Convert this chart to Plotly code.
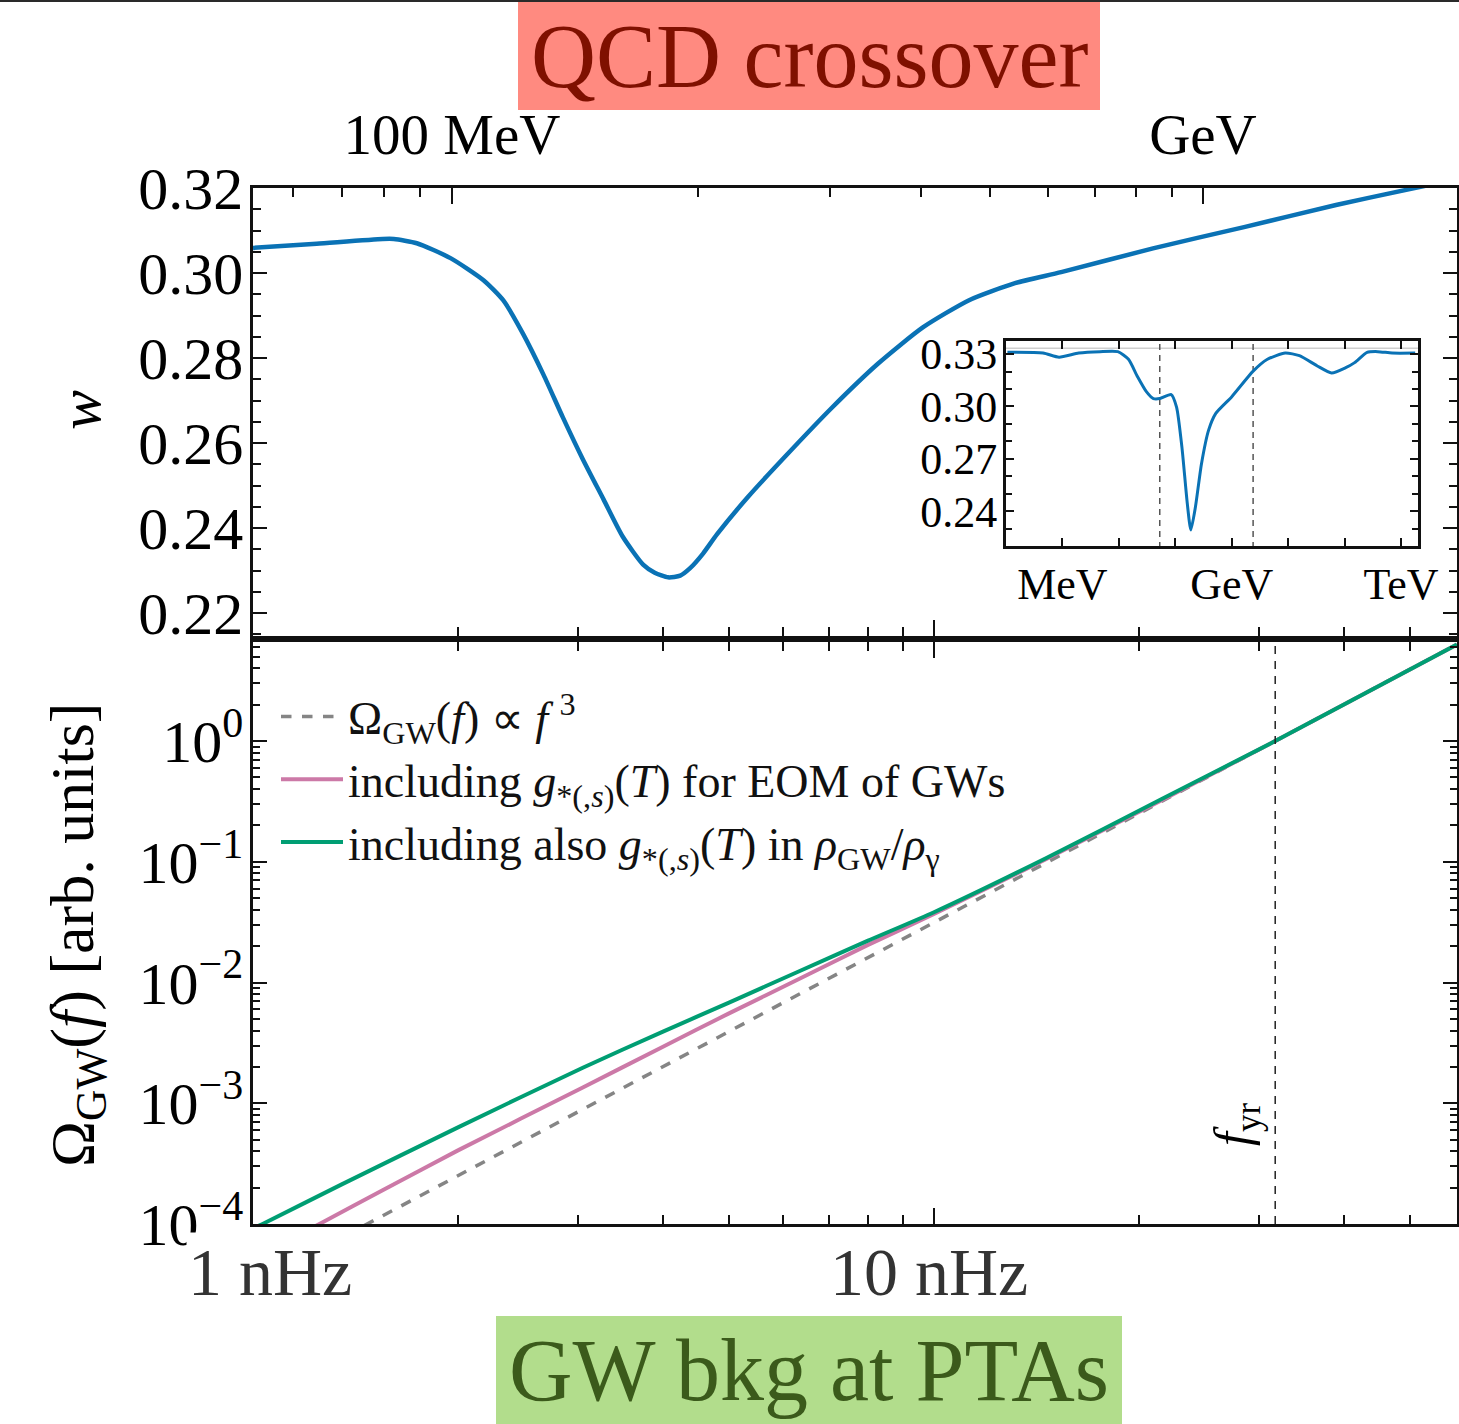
import plotly.graph_objects as go

# ---------------------------------------------------------------------------
# Equation-of-state parameter w = p/rho versus GW frequency today [nHz]
w_freq = [1.00, 1.24, 1.55, 1.61, 1.74, 1.95, 2.18, 2.33, 2.49, 2.67, 2.85,
          3.05, 3.27, 3.49, 3.74, 3.89, 4.07, 4.24, 4.38, 4.58, 4.80, 5.33,
          6.06, 7.08, 8.28, 9.63, 11.26, 13.15, 15.37, 20.97, 28.53, 38.93,
          49.17, 58.6]
w_val = [0.3059, 0.3069, 0.3080, 0.3080, 0.3070, 0.3035, 0.2983, 0.2936,
         0.2858, 0.2761, 0.2661, 0.2562, 0.2468, 0.2380, 0.2314, 0.2295,
         0.2284, 0.2288, 0.2305, 0.2340, 0.2385, 0.2473, 0.2570, 0.2683,
         0.2787, 0.2872, 0.2936, 0.2976, 0.3002, 0.3058, 0.3108, 0.3160,
         0.3195, 0.3221]

# Inset: w over the full temperature range [MeV]
inset_T = [0.106, 0.454, 0.871, 1.945, 4.63, 9.59, 14.8, 21.3, 30.7, 40.9,
           53.2, 84.5, 105.2, 130.9, 162.9, 188.4, 227.5, 291.1, 389.0, 521.2,
           1002, 2393, 4285, 8851, 15849, 32734, 58614, 104713, 150314,
           250035, 387258, 693426, 1778279]
inset_w = [0.3310, 0.3306, 0.3282, 0.3306, 0.3314, 0.3314, 0.3270, 0.3172,
           0.3085, 0.3045, 0.3045, 0.3068, 0.2996, 0.2767, 0.2444, 0.2292,
           0.2425, 0.2672, 0.2864, 0.2960, 0.3056, 0.3202, 0.3270, 0.3306,
           0.3291, 0.3232, 0.3192, 0.3222, 0.3251, 0.3310, 0.3314, 0.3306,
           0.3306]
radiation_w = [1 / 3, 1 / 3]
radiation_T = [0.1, 2.0e6]
window_T = [53.0, 2390.0]          # temperature span of the main panel [MeV]

# GW energy spectra [arb. units] versus frequency [nHz]
ref_freq = [1.0, 58.6]
ref_omega = [3.14e-5, 6.32]
eom_freq = [1.0, 1.26, 1.55, 2.0, 3.05, 4.0, 5.0, 6.4, 8.0, 10.0, 14.6,
            21.6, 31.7, 58.6]
eom_omega = [5.09e-5, 1.02e-4, 1.90e-4, 4.07e-4, 1.35e-3, 2.94e-3, 5.55e-3,
             1.10e-2, 2.05e-2, 3.69e-2, 0.105, 0.324, 1.0, 6.31]
full_freq = [1.0, 1.04, 1.35, 2.0, 3.05, 4.0, 5.0, 6.4, 8.0, 10.0, 14.6,
             21.6, 31.7, 58.6]
full_omega = [9.2e-5, 1.02e-4, 2.13e-4, 6.31e-4, 1.97e-3, 3.92e-3, 6.82e-3,
              1.27e-2, 2.22e-2, 3.82e-2, 0.107, 0.331, 1.0, 6.31]
f_yr = 31.7

# Temperature ticks on the top axis and the frequencies they map to
T_tick_MeV = [60, 70, 80, 90, 100, 200, 300, 400, 500, 600, 700, 800, 900, 1000]
T_tick_freq = [1.145, 1.351, 1.557, 1.759, 1.960, 4.50, 7.04, 9.57, 12.08,
               14.70, 17.24, 19.80, 22.36, 24.83]
T_labels = {100: "100 MeV", 1000: "GeV"}

# Tick positions
f_major = [1, 10]
f_minor = [2, 3, 4, 5, 6, 7, 8, 9, 20, 30, 40, 50]
omega_major = [1e-4, 1e-3, 1e-2, 1e-1, 1]
omega_labels = ["10<sup>\u22124</sup>", "10<sup>\u22123</sup>", "10<sup>\u22122</sup>",
                "10<sup>\u22121</sup>", "10<sup>0</sup>"]
omega_minor = [m * 10.0 ** e for e in range(-4, 1) for m in range(2, 10)]
inset_T_major = [1, 1e3, 1e6]
inset_T_labels = ["MeV", "GeV", "TeV"]
inset_T_minor = [0.1, 10, 100, 1e4, 1e5]

# ---------------------------------------------------------------------------
W, H = 1459, 1424
BLUE = "#0a72b5"
GREEN = "#009e73"
PINK = "#cc79a7"
GREY = "#858585"
FONT = "Liberation Serif"
INK = "#111111"


def px_x(v):
    return v / W


def px_y(v):
    return 1 - v / H


X_DOM = [px_x(253), px_x(1457)]
TOP_DOM = [px_y(636), px_y(188)]
BOT_DOM = [px_y(1224), px_y(642)]
INSET_X = [px_x(1006), px_x(1418)]
INSET_Y = [px_y(546), px_y(341)]
F_RANGE = [0, 1.768]

fig = go.Figure()

# upper panel: w(f)
fig.add_trace(go.Scatter(x=w_freq, y=w_val, xaxis="x", yaxis="y", mode="lines",
                         line=dict(color=BLUE, width=4.5, shape="spline", smoothing=0.6),
                         showlegend=False, hoverinfo="skip"))
# carrier for the temperature axis along the top
fig.add_trace(go.Scatter(x=T_tick_freq, y=[0.3] * len(T_tick_freq), xaxis="x3", yaxis="y",
                         mode="lines", line=dict(width=0), opacity=0,
                         showlegend=False, hoverinfo="skip"))

# lower panel: spectra
fig.add_trace(go.Scatter(x=ref_freq, y=ref_omega, xaxis="x2", yaxis="y2", mode="lines",
                         line=dict(color=GREY, width=3.5, dash="dash"),
                         name="\u03a9<sub>GW</sub>(<i>f</i>) \u221d <i>f</i> <sup>3</sup>"))
fig.add_trace(go.Scatter(x=eom_freq, y=eom_omega, xaxis="x2", yaxis="y2", mode="lines",
                         line=dict(color=PINK, width=4, shape="spline", smoothing=0.6),
                         name="including <i>g</i><sub>*(,<i>s</i>)</sub>(<i>T</i>) for EOM of GWs"))
fig.add_trace(go.Scatter(x=full_freq, y=full_omega, xaxis="x2", yaxis="y2", mode="lines",
                         line=dict(color=GREEN, width=4, shape="spline", smoothing=0.6),
                         name="including also <i>g</i><sub>*(,<i>s</i>)</sub>(<i>T</i>) in "
                              "<i>\u03c1</i><sub>GW</sub>/<i>\u03c1</i><sub>\u03b3</sub>"))
fig.add_trace(go.Scatter(x=[f_yr, f_yr], y=[1e-4, 10], xaxis="x2", yaxis="y2", mode="lines",
                         line=dict(color="#222222", width=1.5, dash="8px,7px"),
                         showlegend=False, hoverinfo="skip"))

# inset: w(T) over the full range
fig.add_trace(go.Scatter(x=radiation_T, y=radiation_w, xaxis="x4", yaxis="y4", mode="lines",
                         line=dict(color="#cfcfcf", width=1.5), showlegend=False,
                         hoverinfo="skip"))
for t in window_T:
    fig.add_trace(go.Scatter(x=[t, t], y=[0.2, 0.35], xaxis="x4", yaxis="y4", mode="lines",
                             line=dict(color="#555555", width=1.5, dash="6px,5px"),
                             showlegend=False, hoverinfo="skip"))
fig.add_trace(go.Scatter(x=inset_T, y=inset_w, xaxis="x4", yaxis="y4", mode="lines",
                         line=dict(color=BLUE, width=3, shape="spline", smoothing=0.6),
                         showlegend=False, hoverinfo="skip"))

axis_common = dict(showline=True, linecolor=INK, linewidth=2.5, showgrid=False,
                   zeroline=False, tickcolor=INK, tickwidth=2, automargin=False)

fig.update_layout(
    template="none", autosize=False,
    width=W, height=H, margin=dict(l=0, r=0, t=0, b=0, pad=0, autoexpand=False),
    paper_bgcolor="white", plot_bgcolor="white",
    font=dict(family=FONT, color="black"),
    xaxis=dict(axis_common, domain=X_DOM, anchor="y", type="log", range=F_RANGE,
               tickmode="array", tickvals=f_major, ticks="inside", ticklen=16,
               showticklabels=False, mirror=True,
               minor=dict(tickmode="array", tickvals=f_minor, ticks="inside",
                          ticklen=9, tickcolor=INK, tickwidth=2)),
    xaxis3=dict(axis_common, overlaying="x", anchor="y", side="top", type="log",
                range=F_RANGE, tickmode="array",
                tickvals=[f for f, t in zip(T_tick_freq, T_tick_MeV) if t in T_labels],
                ticktext=[T_labels[t] for t in T_tick_MeV if t in T_labels],
                ticks="inside", ticklen=16, ticklabelstandoff=8,
                tickfont=dict(size=57, family=FONT),
                minor=dict(tickmode="array",
                           tickvals=[f for f, t in zip(T_tick_freq, T_tick_MeV)
                                     if t not in T_labels],
                           ticks="inside", ticklen=9, tickcolor=INK, tickwidth=2)),
    yaxis=dict(axis_common, domain=TOP_DOM, anchor="x", range=[0.2146, 0.32],
               tickmode="linear", tick0=0.22, dtick=0.02, tickformat=".2f",
               ticks="inside", ticklen=14, mirror="ticks", ticklabelstandoff=-5,
               tickfont=dict(size=60, family=FONT),
               minor=dict(dtick=0.005, tick0=0.22, ticks="inside", ticklen=8,
                          tickcolor=INK, tickwidth=2)),
    xaxis2=dict(axis_common, domain=X_DOM, anchor="y2", type="log", range=F_RANGE,
                tickmode="array", tickvals=f_major, ticks="inside", ticklen=16,
                showticklabels=False, mirror="ticks",
                minor=dict(tickmode="array", tickvals=f_minor, ticks="inside",
                           ticklen=9, tickcolor=INK, tickwidth=2)),
    yaxis2=dict(axis_common, domain=BOT_DOM, anchor="x2", type="log", range=[-4, 0.82],
                tickmode="array", tickvals=omega_major, ticktext=omega_labels,
                ticks="inside", ticklen=14, mirror="ticks", ticklabelstandoff=-5,
                tickfont=dict(size=60, family=FONT),
                minor=dict(tickmode="array", tickvals=omega_minor, ticks="inside",
                           ticklen=7, tickcolor=INK, tickwidth=2)),
    xaxis4=dict(axis_common, domain=INSET_X, anchor="y4", type="log", range=[-1, 6.3],
                tickmode="array", tickvals=inset_T_major, ticktext=inset_T_labels,
                ticks="inside", ticklen=8, mirror="ticks", linewidth=3,
                ticklabelstandoff=-3, tickfont=dict(size=44, family=FONT),
                minor=dict(tickmode="array", tickvals=inset_T_minor, ticks="inside",
                           ticklen=8, tickcolor=INK, tickwidth=2)),
    yaxis4=dict(axis_common, domain=INSET_Y, anchor="x4", range=[0.2200, 0.3375],
                tickmode="array", tickvals=[0.24, 0.27, 0.30, 0.33],
                ticktext=["0.24", "0.27", "0.30", "0.33"],
                ticks="inside", ticklen=8, mirror="ticks", linewidth=3,
                ticklabelstandoff=-3, tickfont=dict(size=44, family=FONT),
                minor=dict(dtick=0.01, tick0=0.22, ticks="inside", ticklen=6,
                           tickcolor=INK, tickwidth=2)),
    legend=dict(x=px_x(276), y=px_y(680), xanchor="left", yanchor="top",
                bgcolor="rgba(0,0,0,0)", font=dict(size=46, family=FONT, color=INK),
                itemwidth=62, tracegroupgap=0),
)

shapes = [
    dict(type="rect", xref="paper", yref="paper", x0=px_x(518), x1=px_x(1100),
         y0=px_y(110), y1=1.0, fillcolor="#ff8a80", line=dict(width=0), layer="below"),
    dict(type="rect", xref="paper", yref="paper", x0=px_x(496), x1=px_x(1122),
         y0=0.0, y1=px_y(1316), fillcolor="#b2dd8c", line=dict(width=0), layer="below"),
    dict(type="line", xref="paper", yref="paper", x0=0, x1=1, y0=1, y1=1,
         line=dict(color="#2a2a2a", width=4)),
]
fig.update_layout(shapes=shapes)

annotations = [
    dict(text="QCD crossover", x=px_x(809), y=px_y(57), font=dict(size=90, color="#7f1000")),
    dict(text="GW bkg at PTAs", x=px_x(809), y=px_y(1370), font=dict(size=88, color="#3b5a1b")),
    dict(text="<i>w</i>", x=px_x(80), y=px_y(410), textangle=-90, font=dict(size=60)),
    dict(text="\u03a9<sub>GW</sub>(<i>f</i>) [arb. units]", x=px_x(76), y=px_y(935),
         textangle=-90, font=dict(size=62)),
    dict(text="1 nHz", x=px_x(270), y=px_y(1272), font=dict(size=68, color="#333333"),
         bgcolor="white"),
    dict(text="10 nHz", x=px_x(929), y=px_y(1272), font=dict(size=68, color="#333333")),
    dict(text="<i>f</i><sub>yr</sub>", x=px_x(1236), y=px_y(1125), textangle=-90,
         font=dict(size=50)),
]
for a in annotations:
    a.update(xref="paper", yref="paper", showarrow=False, xanchor="center", yanchor="middle")
    a["font"].setdefault("family", FONT)
    a["font"].setdefault("color", "black")
fig.update_layout(annotations=annotations)

fig.write_html("out.html")
